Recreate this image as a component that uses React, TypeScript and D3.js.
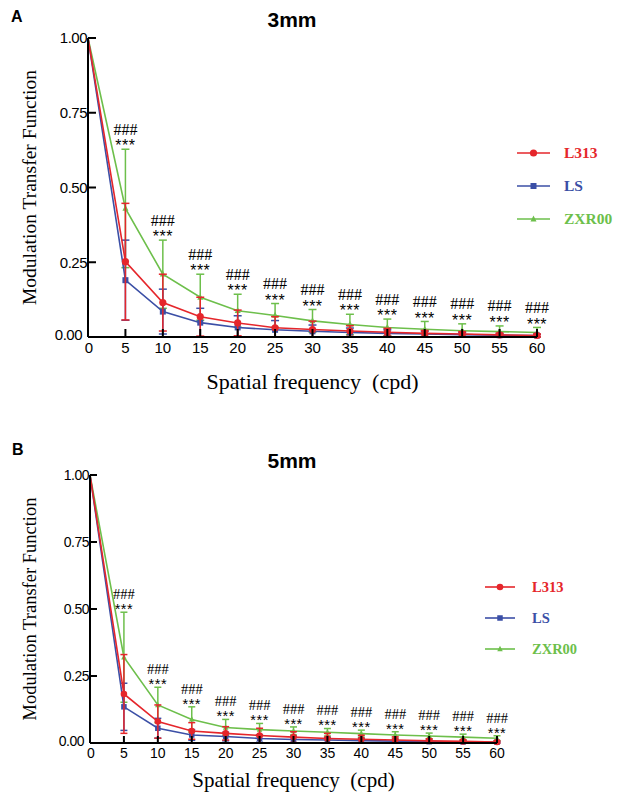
import React from "react";
import * as d3 from "d3";

const FREQ = [0, 5, 10, 15, 20, 25, 30, 35, 40, 45, 50, 55, 60];
const X_TICKS = [0, 5, 10, 15, 20, 25, 30, 35, 40, 45, 50, 55, 60];
const Y_TICKS = [0, 0.25, 0.5, 0.75, 1.0];
const SERIES_NAMES = ["L313", "LS", "ZXR00"];
const SIG_TOP = "###";
const SIG_BOTTOM = "***";

// Panel A (3mm)
const A_L313 = [1, 0.252, 0.115, 0.068, 0.047, 0.031, 0.025, 0.02, 0.016, 0.012, 0.01, 0.007, 0.005];
const A_L313_SD = [0, 0.195, 0.095, 0.065, 0.043, 0.037, 0.028, 0.018, 0.013, 0.01, 0.008, 0.006, 0.005];
const A_LS = [1, 0.19, 0.085, 0.048, 0.032, 0.024, 0.019, 0.015, 0.012, 0.01, 0.008, 0.006, 0.005];
const A_LS_SD = [0, 0.134, 0.075, 0.048, 0.039, 0.031, 0.021, 0.015, 0.012, 0.009, 0.007, 0.005, 0.004];
const A_ZXR00 = [1, 0.43, 0.21, 0.133, 0.088, 0.072, 0.054, 0.042, 0.032, 0.026, 0.021, 0.018, 0.015];
const A_ZXR00_SD = [0, 0.198, 0.114, 0.077, 0.055, 0.04, 0.038, 0.034, 0.028, 0.026, 0.023, 0.019, 0.017];

// Panel B (5mm)
const B_L313 = [1, 0.183, 0.08, 0.045, 0.036, 0.028, 0.022, 0.017, 0.014, 0.011, 0.008, 0.006, 0.004];
const B_L313_SD = [0, 0.147, 0.062, 0.031, 0.025, 0.027, 0.02, 0.019, 0.015, 0.012, 0.008, 0.006, 0.004];
const B_LS = [1, 0.135, 0.055, 0.03, 0.024, 0.017, 0.013, 0.011, 0.009, 0.007, 0.005, 0.004, 0.003];
const B_LS_SD = [0, 0.088, 0.037, 0.02, 0.016, 0.014, 0.012, 0.01, 0.008, 0.006, 0.005, 0.004, 0.003];
const B_ZXR00 = [1, 0.32, 0.142, 0.088, 0.058, 0.05, 0.045, 0.04, 0.035, 0.03, 0.026, 0.022, 0.018];
const B_ZXR00_SD = [0, 0.168, 0.066, 0.047, 0.03, 0.023, 0.015, 0.014, 0.013, 0.012, 0.011, 0.011, 0.009];

const COLORS = { L313: "#e5262b", LS: "#3b4fa6", ZXR00: "#6dbf4b" };
const SANS = "'Liberation Sans', Arial, Helvetica, sans-serif";
const SERIF = "'Liberation Serif', 'Times New Roman', serif";

type Cfg = {
  x0: number; x1: number; yBottom: number; yTop: number;
  label: string; labelX: number; labelY: number;
  title: string; titleX: number; titleY: number; titleSize: number;
  tickSize: number; tickLen: number; xTitleSize: number; yTitleSize: number;
  yTitleX: number; xTitleY: number;
  legLineX0: number; legLineX1: number; legTextX: number; legY: number[]; legSize: number;
  capW: number; r: number; sq: number; tri: number;
  sigSize: number; starOff: number; hashOff: number;
};

function marker(name: string, x: number, y: number, cfg: Cfg, key: string) {
  const c = (COLORS as any)[name];
  if (name === "L313") return <circle key={key} cx={x} cy={y} r={cfg.r} fill={c} />;
  if (name === "LS") return <rect key={key} x={x - cfg.sq / 2} y={y - cfg.sq / 2} width={cfg.sq} height={cfg.sq} fill={c} />;
  const s = cfg.tri;
  return <path key={key} d={`M${x},${y - s * 0.6}L${x + s / 2},${y + s * 0.4}L${x - s / 2},${y + s * 0.4}Z`} fill={c} />;
}

function Panel({ cfg, data }: { cfg: Cfg; data: { name: string; mean: number[]; sd: number[] }[] }) {
  const xs = d3.scaleLinear().domain([0, 60]).range([cfg.x0, cfg.x1]);
  const ys = d3.scaleLinear().domain([0, 1]).range([cfg.yBottom, cfg.yTop]);
  const line = d3.line<number>().x((_, i) => xs(FREQ[i])).y((d) => ys(d));
  const order = ["ZXR00", "LS", "L313"];
  const green = data.find((d) => d.name === "ZXR00")!;
  const midX = (cfg.x0 + cfg.x1) / 2;
  return (
    <g>
      <text x={cfg.labelX} y={cfg.labelY} fontFamily={SANS} fontWeight="bold" fontSize={16}>{cfg.label}</text>
      <text x={cfg.titleX} y={cfg.titleY} textAnchor="middle" fontFamily={SANS} fontWeight="bold" fontSize={cfg.titleSize}>{cfg.title}</text>
      {order.map((nm) => {
        const s = data.find((d) => d.name === nm)!;
        const c = (COLORS as any)[nm];
        return (
          <g key={nm}>
            <path d={line(s.mean) || ""} fill="none" stroke={c} strokeWidth={1.6} />
            {s.mean.map((m, i) => {
              if (i === 0) return null;
              const x = xs(FREQ[i]);
              const yt = ys(m + s.sd[i]);
              const yb = ys(Math.max(0, m - s.sd[i]));
              return (
                <g key={i}>
                  <line x1={x} x2={x} y1={yt} y2={yb} stroke={c} strokeWidth={1.5} />
                  <line x1={x - cfg.capW / 2} x2={x + cfg.capW / 2} y1={yt} y2={yt} stroke={c} strokeWidth={1.5} />
                  <line x1={x - cfg.capW / 2} x2={x + cfg.capW / 2} y1={yb} y2={yb} stroke={c} strokeWidth={1.5} />
                  {marker(nm, x, ys(m), cfg, "m" + i)}
                </g>
              );
            })}
          </g>
        );
      })}
      {/* axes */}
      <line x1={cfg.x0} x2={cfg.x0} y1={cfg.yTop} y2={cfg.yBottom} stroke="#000" strokeWidth={2} />
      <line x1={cfg.x0} x2={cfg.x1} y1={cfg.yBottom} y2={cfg.yBottom} stroke="#000" strokeWidth={2} />
      {Y_TICKS.map((t) => (
        <g key={"y" + t}>
          <line x1={cfg.x0} x2={cfg.x0 + cfg.tickLen} y1={ys(t)} y2={ys(t)} stroke="#000" strokeWidth={2} />
          <text x={cfg.x0 - (t === 0 ? 6 : 1)} y={ys(t) + cfg.tickSize * 0.36 - (t === 0 ? 2 : 0)} textAnchor="end" fontFamily={SANS} fontSize={cfg.tickSize} letterSpacing={-0.5}>{t.toFixed(2)}</text>
        </g>
      ))}
      {X_TICKS.map((t) => (
        <g key={"x" + t}>
          <line x1={xs(t)} x2={xs(t)} y1={cfg.yBottom} y2={cfg.yBottom - cfg.tickLen} stroke="#000" strokeWidth={2} />
          <text x={xs(t) + (t === 0 ? 1 : 0)} y={cfg.yBottom + cfg.tickSize * 1.05} textAnchor="middle" fontFamily={SANS} fontSize={cfg.tickSize}>{t}</text>
        </g>
      ))}
      <text x={midX} y={cfg.xTitleY} textAnchor="middle" fontFamily={SERIF} fontSize={cfg.xTitleSize} style={{ whiteSpace: "pre" }}>{"Spatial frequency  (cpd)"}</text>
      <text transform={`translate(${cfg.yTitleX},${(cfg.yTop + cfg.yBottom) / 2}) rotate(-90)`} textAnchor="middle" fontFamily={SERIF} fontSize={cfg.yTitleSize}>Modulation Transfer Function</text>
      {/* significance */}
      {FREQ.map((f, i) => {
        if (i === 0) return null;
        const yt = ys(green.mean[i] + green.sd[i]);
        return (
          <g key={"s" + i}>
            <text x={xs(f)} y={yt - cfg.hashOff + cfg.sigSize * 0.34} textAnchor="middle" fontFamily={SERIF} fontSize={cfg.sigSize}>{SIG_TOP}</text>
            <text x={xs(f)} y={yt - cfg.starOff + cfg.sigSize * 0.57} textAnchor="middle" fontFamily={SANS} fontSize={cfg.sigSize} letterSpacing={0.5}>{SIG_BOTTOM}</text>
          </g>
        );
      })}
      {/* legend */}
      {SERIES_NAMES.map((nm, i) => {
        const c = (COLORS as any)[nm];
        const y = cfg.legY[i];
        return (
          <g key={"l" + nm}>
            <line x1={cfg.legLineX0} x2={cfg.legLineX1} y1={y} y2={y} stroke={c} strokeWidth={1.6} />
            {marker(nm, (cfg.legLineX0 + cfg.legLineX1) / 2, y, cfg, "lm")}
            <text x={cfg.legTextX} y={y + cfg.legSize * 0.35} fontFamily={SERIF} fontWeight="bold" fontSize={cfg.legSize} fill={c}>{nm}</text>
          </g>
        );
      })}
    </g>
  );
}

const CFG_A: Cfg = {
  x0: 88, x1: 537, yBottom: 337, yTop: 38,
  label: "A", labelX: 11, labelY: 22,
  title: "3mm", titleX: 292, titleY: 27, titleSize: 21,
  tickSize: 15, tickLen: 8, xTitleSize: 22, yTitleSize: 19.5,
  yTitleX: 36, xTitleY: 389,
  legLineX0: 517, legLineX1: 550, legTextX: 564, legY: [153, 186, 219], legSize: 15.5,
  capW: 8, r: 3.6, sq: 6, tri: 6,
  sigSize: 16, starOff: 7, hashOff: 20,
};

const CFG_B: Cfg = {
  x0: 90, x1: 497, yBottom: 743, yTop: 475,
  label: "B", labelX: 12, labelY: 455,
  title: "5mm", titleX: 292, titleY: 468, titleSize: 21,
  tickSize: 14, tickLen: 7, xTitleSize: 21, yTitleSize: 18.5,
  yTitleX: 36, xTitleY: 787,
  legLineX0: 485, legLineX1: 515, legTextX: 532, legY: [587, 618, 649], legSize: 14.5,
  capW: 7, r: 3.3, sq: 5.5, tri: 5.5,
  sigSize: 14.5, starOff: 6.5, hashOff: 18,
};

export default function App() {
  const dataA = [
    { name: "L313", mean: A_L313, sd: A_L313_SD },
    { name: "LS", mean: A_LS, sd: A_LS_SD },
    { name: "ZXR00", mean: A_ZXR00, sd: A_ZXR00_SD },
  ];
  const dataB = [
    { name: "L313", mean: B_L313, sd: B_L313_SD },
    { name: "LS", mean: B_LS, sd: B_LS_SD },
    { name: "ZXR00", mean: B_ZXR00, sd: B_ZXR00_SD },
  ];
  return (
    <svg width={618} height={798} style={{ position: "absolute", left: 0, top: 0, background: "#fff" }}>
      <rect width={618} height={798} fill="#fff" />
      <Panel cfg={CFG_A} data={dataA} />
      <Panel cfg={CFG_B} data={dataB} />
    </svg>
  );
}
